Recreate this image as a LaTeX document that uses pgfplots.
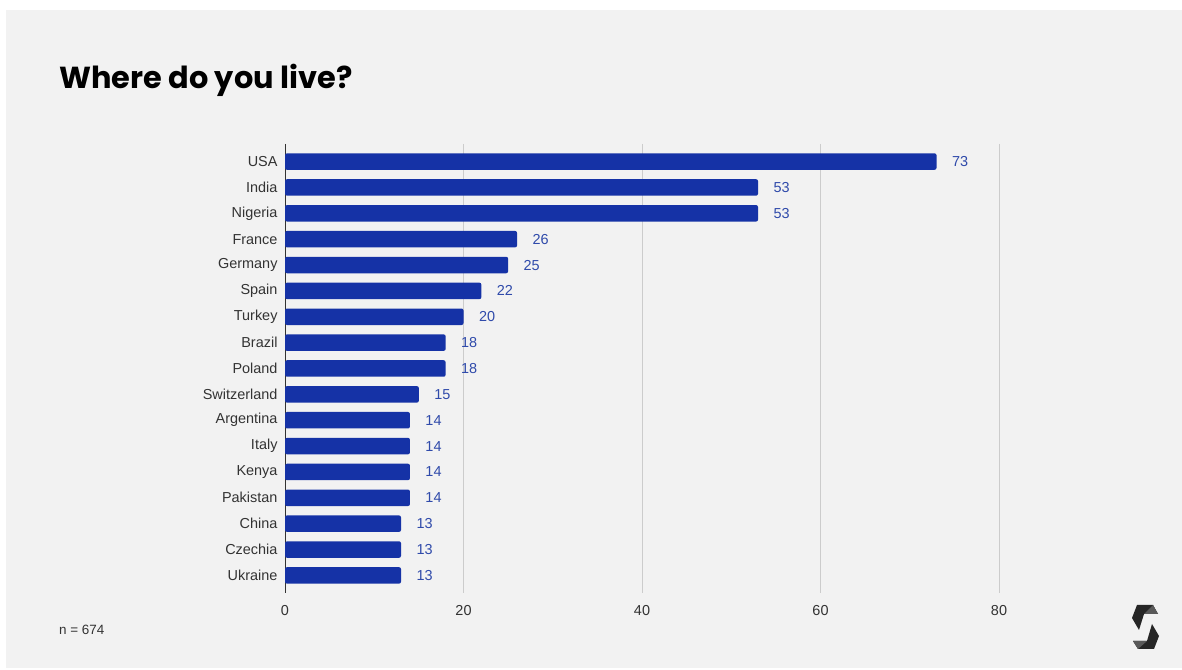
\documentclass[border=0pt]{standalone}
\usepackage{fontspec}
\setmainfont{Liberation Sans}
\newfontfamily\titlefont{Poppins}
\usepackage{pgfplots}
\pgfplotsset{compat=1.18}
\definecolor{panel}{HTML}{F2F2F2}
\definecolor{barblue}{HTML}{1532A6}
\definecolor{lblblue}{HTML}{2F4AAA}
\definecolor{txt}{HTML}{333333}
\definecolor{gridc}{HTML}{CCCCCC}
\begin{document}
\begin{tikzpicture}[x=1bp,y=1bp]
\fill[white] (0,0) rectangle (1182,670);
\fill[panel] (6,2) rectangle (1182,660);
\node[anchor=base west, inner sep=0pt, font=\titlefont\bfseries\fontsize{30.5}{36}\selectfont] at (59,581) {Where do you live?};
\node[anchor=base west, inner sep=0pt, font=\fontsize{13.5}{16}\selectfont, text=txt] at (59,35) {n = 674};
\begin{axis}[
  at={(285bp,77bp)}, anchor=south west,
  scale only axis, width=714bp, height=449bp,
  xbar, bar width=16.5bp,
  xmin=0, xmax=80, ymin=-0.68, ymax=16.68,
  y dir=reverse,
  ytick={0,...,16},
  yticklabels={USA,India,Nigeria,France,Germany,Spain,Turkey,Brazil,Poland,Switzerland,Argentina,Italy,Kenya,Pakistan,China,Czechia,Ukraine},
  xtick={0,20,40,60,80},
  axis x line=bottom, axis y line=left,
  x axis line style={draw=none},
  y axis line style={draw=txt, line width=0.9bp, -},
  major tick length=0pt,
  xmajorgrids, grid style={gridc, line width=0.8bp},
  tick label style={font=\fontsize{14.5}{17}\selectfont, text=txt},
  /pgf/number format/assume math mode=true,
  yticklabel style={xshift=-4bp},
  xticklabel style={yshift=-9bp},
  nodes near coords,
  nodes near coords style={anchor=west, xshift=12bp, font=\fontsize{14.5}{17}\selectfont, text=lblblue, /pgf/number format/assume math mode=true},
  clip=false,
]
\addplot[draw=none, fill=barblue, rounded corners=2bp] coordinates {
(73,0) (53,1) (53,2) (26,3) (25,4) (22,5) (20,6) (18,7) (18,8) (15,9)
(14,10) (14,11) (14,12) (14,13) (13,14) (13,15) (13,16)};
\end{axis}
% logo
\fill[black!85] (1137,65) -- (1153,65) -- (1158,56) -- (1144,56) -- (1139,40) -- (1132,52) -- cycle;
\fill[black!65] (1144,56) -- (1158,56) -- (1153,65) -- cycle;
\fill[black!85] (1154,21) -- (1138,21) -- (1133,29) -- (1147,29) -- (1152,46) -- (1159,34) -- cycle;
\fill[black!65] (1147,29) -- (1133,29) -- (1138,21) -- cycle;
\pgfresetboundingbox
\useasboundingbox (0,0) rectangle (1182,670);
\end{tikzpicture}
\end{document}
